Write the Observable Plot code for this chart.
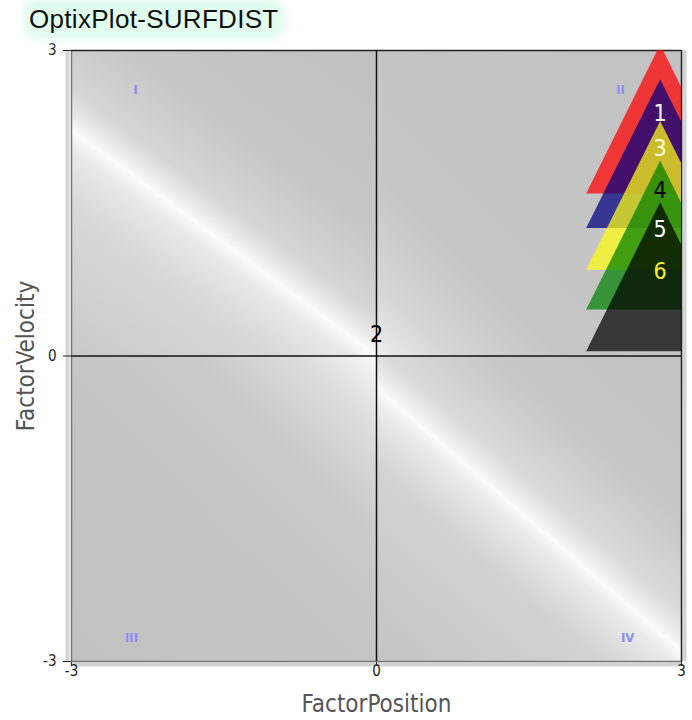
<!DOCTYPE html>
<html>
<head>
<meta charset="utf-8">
<script src="https://cdn.jsdelivr.net/npm/d3@7"></script>
<script src="https://cdn.jsdelivr.net/npm/@observablehq/plot@0.6"></script>
<style>
  html, body { margin: 0; padding: 0; background: #fff; }
  #title { height: 40px; position: relative; }
  #title span {
    position: absolute; left: 29px; top: 4px;
    font-family: "Liberation Sans", Arial, sans-serif; font-size: 26px; letter-spacing: 0.3px; color: #111;
    background: #e2fcee; box-shadow: 0 0 8px 6px #e2fcee; border-radius: 10px; line-height: 30px;
  }
</style>
</head>
<body>
<div id="title"><span>OptixPlot-SURFDIST</span></div>
<div id="chart"></div>
<script>
// ---- data ----
const xDomain = [-3, 3];
const yDomain = [-3, 3];
const xTicks = [-3, 0, 3];
const yTicks = [-3, 0, 3];
const xTitle = "FactorPosition";
const yTitle = "FactorVelocity";

const pointLabels = ["1", "2", "3", "4", "5", "6"];
const pointX = [2.79, 0, 2.79, 2.79, 2.79, 2.79];
const pointY = [2.17, 0, 1.83, 1.42, 1.03, 0.62];
const markerColors = ["#ff0000", null, "#000080", "#ffff10", "#008000", "#000000"];
const labelColors = ["#ffffff", "#000000", "#fffbe0", "#000000", "#ffffff", "#f2f230"];

const quadrantNames = ["I", "II", "III", "IV"];
const quadrantLabelX = [-2.37, 2.4, -2.41, 2.47];
const quadrantLabelY = [2.61, 2.61, -2.77, -2.77];
const quadrantGradients = ["url(#gI)", "url(#gII)", "url(#gIII)", "url(#gIV)"];

// quadrant rectangles derived from the axis domains
const quadrants = [
  {x1: xDomain[0], x2: 0, y1: 0, y2: yDomain[1], fill: quadrantGradients[0]},
  {x1: 0, x2: xDomain[1], y1: 0, y2: yDomain[1], fill: quadrantGradients[1]},
  {x1: xDomain[0], x2: 0, y1: yDomain[0], y2: 0, fill: quadrantGradients[2]},
  {x1: 0, x2: xDomain[1], y1: yDomain[0], y2: 0, fill: quadrantGradients[3]}
];

const idx = d3.range(pointLabels.length);
const triIdx = idx.filter(i => markerColors[i]);
const plainIdx = idx.filter(i => !markerColors[i]);
const qIdx = d3.range(quadrantNames.length);

// custom triangle symbol (apex up, anchor below the centre)
const triangle = {
  draw(context, size) {
    const r = Math.sqrt(size / Math.PI);
    context.moveTo(0, -1.223 * r);
    context.lineTo(r, 0.79 * r);
    context.lineTo(-r, 0.79 * r);
    context.closePath();
  }
};

const font = "DejaVu Sans Condensed, DejaVu Sans, sans-serif";
const fmt = d => String(d);

const chart = Plot.plot({
  width: 692,
  height: 680,
  marginTop: 10,
  marginBottom: 59,
  marginLeft: 71,
  marginRight: 11,
  style: {fontFamily: font, fontSize: "15px", color: "#222", background: "transparent"},
  color: {type: "identity"},
  x: {domain: xDomain},
  y: {domain: yDomain},
  marks: [
    Plot.ruleX([xDomain[0]], {dx: -4, stroke: "#d4d4d4", strokeWidth: 4}),
    Plot.ruleY([yDomain[0]], {dy: 3, stroke: "#d4d4d4", strokeWidth: 4}),
    Plot.ruleX([xDomain[1]], {dx: 3, stroke: "#d4d4d4", strokeWidth: 4}),
    Plot.rect(quadrants, {x1: "x1", x2: "x2", y1: "y1", y2: "y2", fill: "fill"}),
    Plot.axisX({ticks: xTicks, tickFormat: () => "", tickSize: 5, label: null}),
    Plot.axisY({ticks: yTicks, tickFormat: () => "", tickSize: 8, label: null}),
    Plot.text(xTicks, {x: d => d, text: fmt, frameAnchor: "bottom", dy: 14, fontSize: 15, fill: "#222", fontFamily: font}),
    Plot.text(yTicks, {y: d => d, text: fmt, frameAnchor: "left", textAnchor: "end", dx: -15, fontSize: 15, fill: "#222", fontFamily: font}),
    Plot.ruleX([xDomain[0]], {stroke: "#777", strokeWidth: 1.5}),
    Plot.ruleY([yDomain[0]], {stroke: "#777", strokeWidth: 1.5}),
    Plot.ruleY([yDomain[1]], {stroke: "#222", strokeWidth: 1.5}),
    Plot.ruleX([xDomain[1]], {stroke: "#222", strokeWidth: 1.5}),
    Plot.ruleX([0], {stroke: "#111", strokeWidth: 1.5}),
    Plot.ruleY([0], {stroke: "#111", strokeWidth: 1.5}),
    Plot.dot(plainIdx, {x: i => pointX[i], y: i => pointY[i], symbol: "plus", r: 6.5, fill: "#ededed", stroke: null}),
    Plot.dot(triIdx, {
      x: i => pointX[i], y: i => pointY[i], symbol: triangle, r: 74,
      fill: i => markerColors[i], fillOpacity: 0.72, stroke: null, clip: true
    }),
    Plot.text(qIdx, {
      x: i => quadrantLabelX[i], y: i => quadrantLabelY[i], text: i => quadrantNames[i],
      fill: "#8c8cf2", fontSize: 13, fontWeight: "bold", fontFamily: font
    }),
    Plot.text(idx, {
      x: i => pointX[i], y: i => pointY[i], text: i => pointLabels[i],
      fill: i => labelColors[i], dy: -21, fontSize: 23, fontFamily: font
    }),
    Plot.text([xTitle], {text: d => d, frameAnchor: "bottom", textAnchor: "middle", dy: 50, fontSize: 24, fill: "#555", fontFamily: font}),
    Plot.text([yTitle], {text: d => d, frameAnchor: "left", textAnchor: "middle", dx: -45, rotate: -90, fontSize: 24, fill: "#555", fontFamily: font})
  ]
});

// gradient definitions for the quadrant backgrounds
const defs = d3.select(chart).insert("defs", ":first-child");
function grad(id, v, stops) {
  const g = defs.append("linearGradient").attr("id", id)
    .attr("x1", v[0]).attr("y1", v[1]).attr("x2", v[2]).attr("y2", v[3]);
  stops.forEach(([o, c]) => g.append("stop").attr("offset", o).attr("stop-color", c));
}
grad("gI", [1, 0, 0.168, 1.124], [[0, "#c0c0c0"], [0.35, "#c7c7c7"], [0.5, "#d6d6d6"], [0.55, "#ececec"], [0.575, "#fcfcfc"], [0.61, "#eaeaea"], [0.72, "#d8d8d8"], [1, "#c9c9c9"]]);
grad("gIV", [1, 0, 0.078, 1.0675], [[0, "#c2c2c2"], [0.3, "#c8c8c8"], [0.45, "#dadada"], [0.5, "#efefef"], [0.519, "#fcfcfc"], [0.545, "#ececec"], [0.66, "#d2d2d2"], [1, "#c4c4c4"]]);
grad("gII", [0, 1, 1, 0], [[0, "#eeeeee"], [0.12, "#d6d6d6"], [0.3, "#c6c6c6"], [1, "#c2c2c2"]]);
grad("gIII", [1, 0, 0, 1], [[0, "#f8f8f8"], [0.12, "#dedede"], [0.3, "#cacaca"], [0.6, "#c4c4c4"], [1, "#c2c2c2"]]);

document.getElementById("chart").appendChild(chart);
</script>
</body>
</html>
